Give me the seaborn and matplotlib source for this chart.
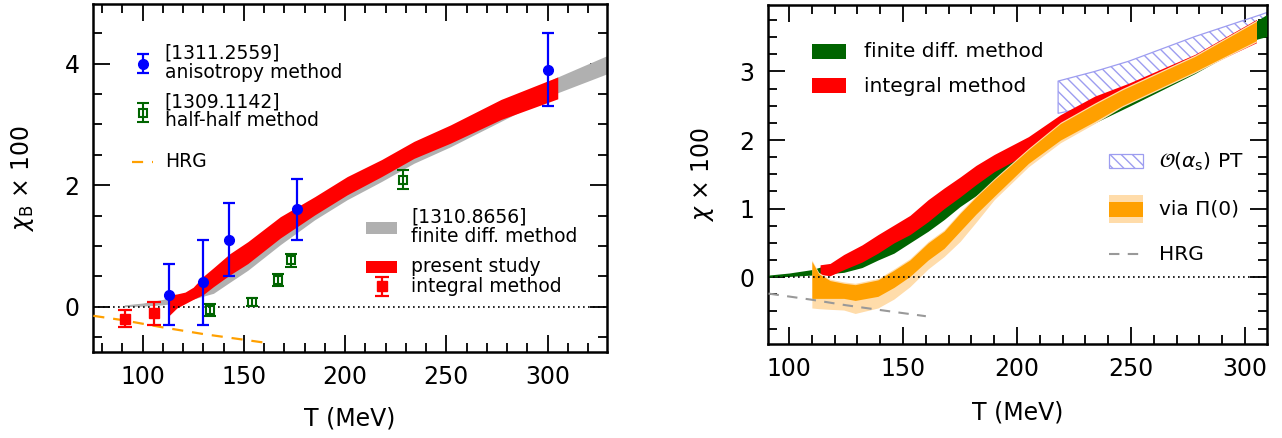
import matplotlib
matplotlib.use("Agg")
import matplotlib.pyplot as plt
from matplotlib.patches import Rectangle
from matplotlib.ticker import MultipleLocator
import seaborn as sns

# --- left panel: chi_B x 100 ---
# anisotropy method [1311.2559]
lat_T = [113, 130, 142.5, 176.5, 300]
lat_chi = [0.20, 0.40, 1.10, 1.60, 3.90]
lat_err = [0.50, 0.70, 0.60, 0.50, 0.60]

# half-half method [1309.1142]
half_T = [133.5, 154.2, 167.0, 173.1, 228.6]
half_chi = [-0.06, 0.08, 0.44, 0.76, 2.09]
half_err = [0.10, 0.07, 0.10, 0.11, 0.16]

# present study, integral method (points)
int_T = [91.4, 105.8]
int_chi = [-0.20, -0.11]
int_err = [0.14, 0.19]

# finite diff. method [1310.8656] band
fd_T = [91, 100, 110, 120, 135, 143, 152, 168, 185, 201, 218, 234, 252, 277, 305, 330]
fd_lo = [0.00, 0.01, 0.03, 0.08, 0.22, 0.40, 0.60, 1.02, 1.43, 1.76, 2.06, 2.36, 2.63, 3.05, 3.52, 3.84]
fd_hi = [0.03, 0.06, 0.12, 0.20, 0.45, 0.68, 0.90, 1.32, 1.70, 2.00, 2.30, 2.60, 2.90, 3.35, 3.78, 4.14]

# present study band
ps_T = [113, 117, 121, 125, 130, 135, 143, 152, 168, 185, 201, 218, 234, 252, 277, 305]
ps_lo = [-0.15, -0.02, 0.05, 0.12, 0.20, 0.33, 0.52, 0.71, 1.13, 1.51, 1.84, 2.14, 2.44, 2.69, 3.08, 3.42]
ps_hi = [0.19, 0.21, 0.24, 0.32, 0.50, 0.64, 0.87, 1.07, 1.48, 1.81, 2.14, 2.42, 2.72, 2.99, 3.41, 3.78]

# HRG (left)
hrgL_T = [75.7, 90, 110, 130, 160]
hrgL = [-0.15, -0.22, -0.34, -0.45, -0.59]

# --- right panel: chi x 100 ---
gr_T = [91, 100, 110, 124, 132, 139, 146, 153, 161, 168, 175, 190, 205, 219, 234, 249, 278, 305, 309.5]
gr_lo = [0.00, 0.01, 0.03, 0.07, 0.14, 0.25, 0.35, 0.50, 0.67, 0.84, 1.03, 1.37, 1.71, 2.00, 2.25, 2.49, 2.97, 3.47, 3.51]
gr_hi = [0.03, 0.06, 0.11, 0.25, 0.38, 0.50, 0.62, 0.78, 0.97, 1.12, 1.30, 1.62, 1.92, 2.20, 2.42, 2.65, 3.12, 3.74, 3.83]

rd_T = [113.6, 118, 124, 132, 139, 146, 153, 161, 168, 175, 182, 190, 205, 219, 234, 249, 278, 305]
rd_lo = [0.04, 0.02, 0.11, 0.22, 0.35, 0.50, 0.62, 0.81, 1.00, 1.17, 1.35, 1.54, 1.81, 2.13, 2.42, 2.59, 3.00, 3.42]
rd_hi = [0.18, 0.20, 0.33, 0.47, 0.62, 0.76, 0.90, 1.13, 1.30, 1.46, 1.63, 1.79, 2.05, 2.37, 2.64, 2.83, 3.25, 3.76]

pi_T = [110, 113, 118, 124, 129, 139, 146, 153, 161, 168, 175, 182, 190, 205, 219, 234, 246, 278, 305]
pi_lo = [-0.31, -0.31, -0.31, -0.31, -0.34, -0.28, -0.15, 0.01, 0.25, 0.42, 0.67, 0.92, 1.18, 1.66, 2.00, 2.27, 2.50, 3.00, 3.45]
pi_hi = [0.23, 0.05, -0.05, -0.09, -0.11, -0.04, 0.10, 0.25, 0.50, 0.67, 0.93, 1.17, 1.42, 1.86, 2.24, 2.52, 2.73, 3.22, 3.73]
pi_wlo = [-0.45, -0.46, -0.47, -0.48, -0.53, -0.45, -0.32, -0.14, 0.12, 0.30, 0.52, 0.80, 1.13, 1.61, 1.96, 2.24, 2.48, 2.98, 3.43]
pi_whi = [0.25, 0.07, -0.03, -0.07, -0.09, -0.02, 0.12, 0.27, 0.52, 0.69, 0.95, 1.19, 1.44, 1.88, 2.26, 2.54, 2.75, 3.24, 3.75]

pt_T = [218, 234, 249, 278, 307, 309.5]
pt_lo = [2.39, 2.50, 2.70, 3.10, 3.50, 3.53]
pt_hi = [2.86, 3.00, 3.15, 3.51, 3.83, 3.86]

hrgR_T = [91, 110, 125, 140, 160]
hrgR = [-0.24, -0.33, -0.41, -0.48, -0.57]

# --- colours ---
RED = "#ff0000"
GREEN = "#006400"
GRAY = "#b0b0b0"
BLUE = "#0000ff"
ORANGE = "#ffa000"
LORANGE = "#ffdcaa"
HATCH = "#9d9df0"

sns.set_theme(style="ticks")
plt.rcParams["font.family"] = ["DejaVu Sans"]
plt.rcParams["mathtext.fontset"] = "dejavusans"
plt.rcParams["hatch.linewidth"] = 1.0
plt.rcParams["text.color"] = "black"
plt.rcParams["axes.labelcolor"] = "black"
plt.rcParams["xtick.color"] = "black"
plt.rcParams["ytick.color"] = "black"

fig = plt.figure(figsize=(12.82, 4.38), dpi=100)
ax1 = fig.add_axes([0.0728, 0.1957, 0.4005, 0.7952])
ax2 = fig.add_axes([0.5993, 0.2139, 0.3888, 0.7747])


def style_axes(ax, xmaj, xmin, ymaj, ymin):
    ax.xaxis.set_major_locator(MultipleLocator(xmaj))
    ax.xaxis.set_minor_locator(MultipleLocator(xmin))
    ax.yaxis.set_major_locator(MultipleLocator(ymaj))
    ax.yaxis.set_minor_locator(MultipleLocator(ymin))
    ax.tick_params(which="both", direction="in", top=True, right=True,
                   width=1.3, color="black", labelcolor="black", labelsize=17)
    ax.tick_params(which="major", length=12)
    ax.tick_params(which="minor", length=6.5)
    ax.tick_params(axis="x", pad=9)
    ax.tick_params(axis="y", pad=10)
    for s in ax.spines.values():
        s.set_linewidth(1.8)
        s.set_color("black")
    ax.grid(False)


def ltext(ax, x, y, s, size):
    ax.text(x, y, s, transform=ax.transAxes, fontsize=size, ha="left",
            va="center", color="black")


# ================= LEFT PANEL =================
ax = ax1
ax.fill_between(fd_T, fd_lo, fd_hi, color=GRAY, lw=0, zorder=2)
ax.fill_between(ps_T, ps_lo, ps_hi, color=RED, lw=0, zorder=3)
sns.lineplot(x=hrgL_T, y=hrgL, ax=ax, color=ORANGE, lw=1.6,
             linestyle=(0, (5, 4)), zorder=4)
ax.axhline(0, color="black", lw=1.2, linestyle=(0, (1, 2)), zorder=5)

ax.errorbar(lat_T, lat_chi, yerr=lat_err, fmt="o", color=BLUE, ms=7,
            elinewidth=1.6, capsize=4.5, capthick=1.6, zorder=6)
ax.errorbar(half_T, half_chi, yerr=half_err, fmt="s", color=GREEN, mfc="none",
            mec=GREEN, mew=1.5, ms=5.5, elinewidth=1.5, capsize=4, capthick=1.5, zorder=6)
ax.errorbar(int_T, int_chi, yerr=int_err, fmt="s", color=RED, ms=6.5,
            elinewidth=1.6, capsize=5, capthick=1.6, zorder=6)

# legend (upper left)
tr = ax.transAxes
ax.errorbar([0.097], [0.828], yerr=[0.027], fmt="o", color=BLUE, ms=7,
            elinewidth=1.6, capsize=4.5, capthick=1.6, transform=tr, clip_on=False)
ltext(ax, 0.139, 0.858, "[1311.2559]", 13.5)
ltext(ax, 0.139, 0.803, "anisotropy method", 13.5)
ax.errorbar([0.097], [0.688], yerr=[0.027], fmt="s", color=GREEN, mfc="none",
            mec=GREEN, mew=1.5, ms=5.5, elinewidth=1.5, capsize=4, capthick=1.5,
            transform=tr, clip_on=False)
ltext(ax, 0.139, 0.720, "[1309.1142]", 13.5)
ltext(ax, 0.139, 0.665, "half-half method", 13.5)
ax.plot([0.076, 0.117], [0.547, 0.547], color=ORANGE, lw=1.6,
        linestyle=(0, (5, 4)), transform=tr)
ltext(ax, 0.139, 0.547, "HRG", 13.5)

# legend (lower right)
ax.add_patch(Rectangle((0.532, 0.339), 0.060, 0.036, transform=tr,
                       color=GRAY, lw=0))
ltext(ax, 0.619, 0.388, "[1310.8656]", 13.5)
ltext(ax, 0.619, 0.332, "finite diff. method", 13.5)
ax.add_patch(Rectangle((0.532, 0.227), 0.060, 0.035, transform=tr,
                       color=RED, lw=0))
ax.errorbar([0.562], [0.190], yerr=[0.027], fmt="s", color=RED, ms=6.5,
            elinewidth=1.6, capsize=5, capthick=1.6, transform=tr)
ltext(ax, 0.619, 0.246, "present study", 13.5)
ltext(ax, 0.619, 0.190, "integral method", 13.5)

style_axes(ax, 50, 10, 2, 0.5)
ax.set_xlim(75.7, 329.2)
ax.set_ylim(-0.75, 4.98)
ax.set_xlabel("T (MeV)", fontsize=17)
ax.set_ylabel(r"$\chi_\mathrm{B}$ $\times$ 100", fontsize=17)
ax.xaxis.set_label_coords(0.5, -0.156)
ax.xaxis.label.set_va("top")
ax.yaxis.set_label_coords(-0.111, 0.5)

# ================= RIGHT PANEL =================
ax = ax2
ax.fill_between(pt_T, pt_lo, pt_hi, facecolor="none", edgecolor=HATCH,
                hatch="\\\\\\", lw=0.9, zorder=2)
ax.fill_between(gr_T, gr_lo, gr_hi, color=GREEN, lw=0, zorder=3)
ax.fill_between(rd_T, rd_lo, rd_hi, color=RED, lw=0, zorder=4)
ax.fill_between(pi_T, pi_wlo, pi_whi, color=LORANGE, lw=0, zorder=5)
ax.fill_between(pi_T, pi_lo, pi_hi, color=ORANGE, lw=0, zorder=6)
sns.lineplot(x=hrgR_T, y=hrgR, ax=ax, color="#999999", lw=1.5,
             linestyle=(0, (5, 4)), zorder=7)
ax.axhline(0, color="black", lw=1.2, linestyle=(0, (1, 2)), zorder=8)

tr = ax.transAxes
ax.add_patch(Rectangle((0.087, 0.841), 0.069, 0.043, transform=tr, color=GREEN, lw=0))
ltext(ax, 0.191, 0.863, "finite diff. method", 14.5)
ax.add_patch(Rectangle((0.087, 0.742), 0.069, 0.042, transform=tr, color=RED, lw=0))
ltext(ax, 0.191, 0.761, "integral method", 14.5)
ax.add_patch(Rectangle((0.683, 0.520), 0.068, 0.040, transform=tr, facecolor="none",
                       edgecolor=HATCH, hatch="\\\\\\", lw=0.9))
ltext(ax, 0.784, 0.538, r"$\mathcal{O}(\alpha_\mathrm{s})$ PT", 14.5)
ax.add_patch(Rectangle((0.683, 0.357), 0.068, 0.082, transform=tr, color=LORANGE, lw=0))
ax.add_patch(Rectangle((0.683, 0.375), 0.068, 0.044, transform=tr, color=ORANGE, lw=0))
ltext(ax, 0.784, 0.398, "via Π(0)", 14.5)
ax.plot([0.683, 0.751], [0.266, 0.266], color="#999999", lw=1.5,
        linestyle=(0, (5, 4)), transform=tr)
ltext(ax, 0.784, 0.266, "HRG", 14.5)

style_axes(ax, 50, 10, 1, 0.25)
ax.set_xlim(90.9, 309.5)
ax.set_ylim(-0.98, 3.97)
ax.set_xlabel("T (MeV)", fontsize=17)
ax.set_ylabel(r"$\chi$ $\times$ 100", fontsize=17)
ax.xaxis.set_label_coords(0.5, -0.167)
ax.xaxis.label.set_va("top")
ax.yaxis.set_label_coords(-0.105, 0.5)

fig.savefig("out.png", dpi=100)
